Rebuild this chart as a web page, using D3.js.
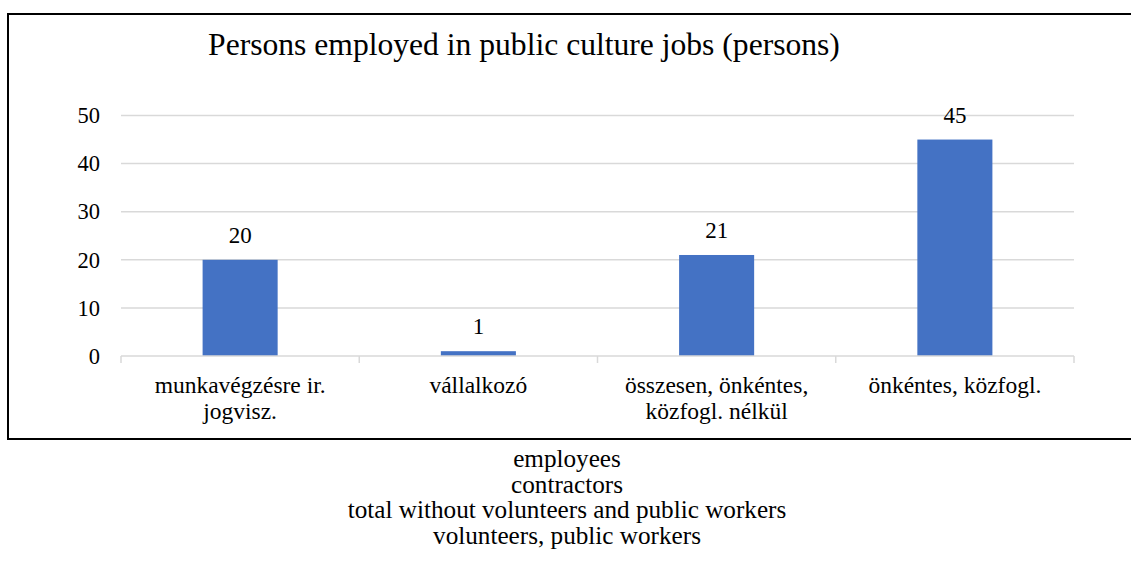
<!DOCTYPE html>
<html>
<head>
<meta charset="utf-8">
<script src="https://cdn.jsdelivr.net/npm/d3@7"></script>
<style>
  html, body { margin: 0; padding: 0; background: #ffffff; }
  svg { display: block; }
  svg text { font-family: 'Liberation Serif', Tinos, 'Times New Roman', Times, serif; fill: #000; }
</style>
</head>
<body>
<svg id="chart" width="1131" height="562"></svg>
<script>
// Chart data
const categories = ["munkavégzésre ir. jogvisz.", "vállalkozó", "összesen, önkéntes, közfogl. nélkül", "önkéntes, közfogl."];
const categoryLines = [["munkavégzésre ir.", "jogvisz."], ["vállalkozó"], ["összesen, önkéntes,", "közfogl. nélkül"], ["önkéntes, közfogl."]];
const values = [20, 1, 21, 45];
const yTicks = [0, 10, 20, 30, 40, 50];
const title = "Persons employed in public culture jobs (persons)";
const translations = ["employees", "contractors", "total without volunteers and public workers", "volunteers, public workers"];

const svg = d3.select("#chart");
const plot = { left: 121, right: 1074, top: 115.5, bottom: 356 };

// Outer frame (right side runs past the page edge)
svg.append("rect")
  .attr("x", 8).attr("y", 14)
  .attr("width", 1140).attr("height", 425)
  .attr("fill", "none").attr("stroke", "#000").attr("stroke-width", 2);

svg.append("text")
  .attr("x", 524).attr("y", 55)
  .attr("text-anchor", "middle")
  .style("font-size", "31.6px")
  .text(title);

const x = d3.scaleBand().domain(categories).range([plot.left, plot.right]).padding(0);
const y = d3.scaleLinear().domain([0, 50]).range([plot.bottom, plot.top]);

// Horizontal gridlines
svg.append("g")
  .selectAll("line")
  .data(yTicks.filter(d => d > 0))
  .join("line")
  .attr("x1", plot.left).attr("x2", plot.right)
  .attr("y1", d => y(d)).attr("y2", d => y(d))
  .attr("stroke", "#d9d9d9").attr("stroke-width", 1.5);

// Y axis labels
const yAxis = d3.axisLeft(y).tickValues(yTicks).tickSize(0).tickPadding(21);
svg.append("g")
  .attr("transform", `translate(${plot.left},0)`)
  .call(yAxis)
  .call(g => g.select(".domain").remove())
  .call(g => g.attr("font-family", null).attr("font-size", null))
  .call(g => g.selectAll("text")
    .style("font-size", "22.5px").attr("fill", "#000"));

// Bars
const barW = x.bandwidth() * 0.315;
svg.append("g")
  .selectAll("rect")
  .data(values)
  .join("rect")
  .attr("x", (d, i) => x(categories[i]) + (x.bandwidth() - barW) / 2)
  .attr("y", d => y(d))
  .attr("width", barW)
  .attr("height", d => y(0) - y(d))
  .attr("fill", "#4472C4");

// Value labels
svg.append("g")
  .selectAll("text")
  .data(values)
  .join("text")
  .attr("x", (d, i) => x(categories[i]) + x.bandwidth() / 2)
  .attr("y", d => y(d) - 17)
  .attr("text-anchor", "middle")
  .style("font-size", "23px")
  .text(d => d);

// Category axis with boundary ticks
const xAxisG = svg.append("g");
xAxisG.append("line")
  .attr("x1", plot.left).attr("x2", plot.right)
  .attr("y1", y(0)).attr("y2", y(0))
  .attr("stroke", "#d9d9d9").attr("stroke-width", 1.5);
const bounds = categories.map(c => x(c)).concat([x(categories[categories.length - 1]) + x.bandwidth()]);
xAxisG.selectAll("line.tick")
  .data(bounds)
  .join("line")
  .attr("class", "tick")
  .attr("x1", d => d).attr("x2", d => d)
  .attr("y1", y(0)).attr("y2", y(0) + 7)
  .attr("stroke", "#d9d9d9").attr("stroke-width", 1.5);

const catLabels = svg.append("g")
  .selectAll("text")
  .data(categories)
  .join("text")
  .attr("x", d => x(d) + x.bandwidth() / 2)
  .attr("y", 393)
  .attr("text-anchor", "middle")
  .style("font-size", "23.5px");
catLabels.each(function (d, i) {
  const t = d3.select(this);
  categoryLines[i].forEach((line, k) => {
    t.append("tspan")
      .attr("x", x(d) + x.bandwidth() / 2)
      .attr("dy", k === 0 ? 0 : 25.5)
      .text(line);
  });
});

// English translations below the frame
svg.append("g")
  .selectAll("text")
  .data(translations)
  .join("text")
  .attr("x", 567)
  .attr("y", (d, i) => 467 + i * 25.5)
  .attr("text-anchor", "middle")
  .style("font-size", "25.2px")
  .text(d => d);
</script>
</body>
</html>
